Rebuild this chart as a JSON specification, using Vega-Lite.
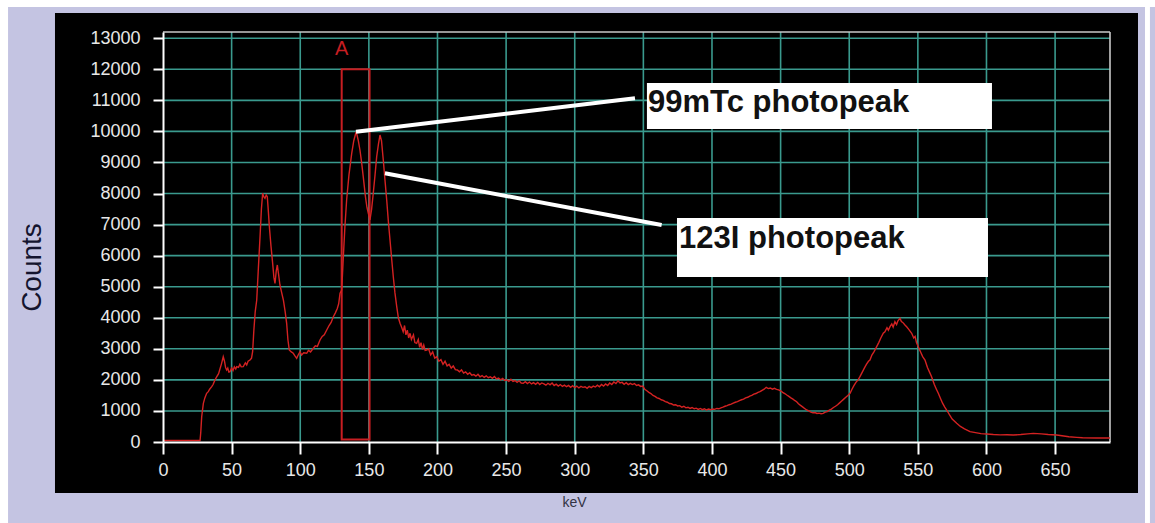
{
  "$schema": "https://vega.github.io/schema/vega-lite/v6.json",
  "width": 947,
  "height": 410,
  "autosize": {"type": "none"},
  "padding": {"left": 163, "top": 32, "right": 45, "bottom": 81},
  "background": "#ffffff",
  "config": {
    "view": {"stroke": null},
    "font": "Liberation Sans",
    "axis": {"grid": false, "labelFlush": false, "labelOverlap": false, "labelBound": false, "titleFontWeight": "normal"}
  },
  "datasets": {
    "spec": [
      {"k":0,"c":50},{"k":10,"c":50},{"k":20,"c":50},{"k":27,"c":50},{"k":27.5,"c":300},{"k":28.2,"c":815},{"k":29.4,"c":1245},{"k":30.5,"c":1420},{"k":31.8,"c":1567},{"k":33,"c":1620},{"k":34,"c":1700},{"k":35.5,"c":1780},{"k":36.5,"c":1850},{"k":37.5,"c":1960},{"k":39.1,"c":2100},{"k":40.5,"c":2200},{"k":41.5,"c":2350},{"k":42.5,"c":2500},{"k":43.9,"c":2746},{"k":44.8,"c":2600},{"k":45.6,"c":2400},{"k":46.4,"c":2318},{"k":47.2,"c":2380},{"k":48,"c":2250},{"k":48.8,"c":2264},{"k":50,"c":2380},{"k":51,"c":2300},{"k":52,"c":2420},{"k":53,"c":2350},{"k":53.7,"c":2425},{"k":55,"c":2400},{"k":56,"c":2500},{"k":57,"c":2420},{"k":58.5,"c":2425},{"k":60,"c":2550},{"k":61,"c":2480},{"k":62,"c":2600},{"k":63.4,"c":2640},{"k":64.5,"c":2700},{"k":65.3,"c":2907},{"k":66.2,"c":3600},{"k":67.2,"c":4200},{"k":68.3,"c":4572},{"k":69.5,"c":5600},{"k":70.7,"c":6610},{"k":71.7,"c":7500},{"k":72.6,"c":8007},{"k":73.4,"c":7900},{"k":74.3,"c":7846},{"k":75.2,"c":7950},{"k":76,"c":7898},{"k":76.8,"c":7400},{"k":77.5,"c":6932},{"k":78.7,"c":6300},{"k":79.9,"c":5753},{"k":80.8,"c":5300},{"k":81.6,"c":5109},{"k":82.5,"c":5500},{"k":83.3,"c":5699},{"k":84.2,"c":5400},{"k":85.2,"c":5055},{"k":86.5,"c":4800},{"k":87.7,"c":4572},{"k":89,"c":4200},{"k":90.1,"c":3821},{"k":91,"c":3300},{"k":92,"c":2962},{"k":93.5,"c":2900},{"k":94.9,"c":2856},{"k":96,"c":2780},{"k":97.4,"c":2695},{"k":98.5,"c":2800},{"k":99.8,"c":2907},{"k":101,"c":2800},{"k":102.5,"c":2870},{"k":104.7,"c":2856},{"k":106,"c":2950},{"k":107.5,"c":2900},{"k":109.5,"c":3017},{"k":111,"c":3100},{"k":112.5,"c":3080},{"k":114.4,"c":3284},{"k":116,"c":3400},{"k":117.5,"c":3450},{"k":119.3,"c":3606},{"k":121,"c":3750},{"k":122.5,"c":3850},{"k":124.1,"c":4035},{"k":125.5,"c":4150},{"k":127,"c":4300},{"k":128,"c":4450},{"k":129,"c":4787},{"k":130.2,"c":4894},{"k":131.4,"c":5966},{"k":132.5,"c":6900},{"k":133.8,"c":7791},{"k":135.5,"c":8600},{"k":137.5,"c":9295},{"k":139,"c":9700},{"k":140.5,"c":9950},{"k":141.3,"c":9900},{"k":142.3,"c":9700},{"k":143.5,"c":9401},{"k":144.7,"c":9000},{"k":145.9,"c":8542},{"k":147.5,"c":7900},{"k":148.6,"c":7550},{"k":149.6,"c":7363},{"k":150.8,"c":7147},{"k":152,"c":7500},{"k":153.2,"c":8007},{"k":154.5,"c":8600},{"k":155.7,"c":9187},{"k":157,"c":9600},{"k":158.1,"c":9884},{"k":159.2,"c":9700},{"k":160.5,"c":9079},{"k":161.8,"c":8400},{"k":163,"c":7791},{"k":164.2,"c":7100},{"k":165.4,"c":6503},{"k":166.6,"c":5900},{"k":167.8,"c":5322},{"k":169,"c":4800},{"k":170.3,"c":4356},{"k":171.5,"c":4000},{"k":172.7,"c":3821},{"k":173.8,"c":3700},{"k":175,"c":3550},{"k":176,"c":3750},{"k":177,"c":3450},{"k":178,"c":3600},{"k":179,"c":3350},{"k":180,"c":3500},{"k":181,"c":3300},{"k":182.5,"c":3450},{"k":183.5,"c":3200},{"k":184.8,"c":3178},{"k":186,"c":3300},{"k":187,"c":3050},{"k":188,"c":3200},{"k":189,"c":2980},{"k":190,"c":3120},{"k":191,"c":2950},{"k":192.1,"c":2962},{"k":193.5,"c":3000},{"k":195,"c":2800},{"k":196.5,"c":2900},{"k":198,"c":2700},{"k":199.5,"c":2750},{"k":201,"c":2600},{"k":202.5,"c":2650},{"k":204,"c":2500},{"k":205.5,"c":2600},{"k":207,"c":2450},{"k":208.5,"c":2500},{"k":210,"c":2380},{"k":211.5,"c":2450},{"k":213,"c":2330},{"k":214.5,"c":2320},{"k":216,"c":2260},{"k":217.5,"c":2320},{"k":219,"c":2220},{"k":220.5,"c":2260},{"k":222,"c":2180},{"k":223.5,"c":2230},{"k":225,"c":2150},{"k":226.5,"c":2170},{"k":228,"c":2120},{"k":229.5,"c":2180},{"k":231,"c":2100},{"k":232.5,"c":2140},{"k":234,"c":2080},{"k":235.5,"c":2130},{"k":237,"c":2070},{"k":238.5,"c":2100},{"k":240,"c":2050},{"k":241.5,"c":2110},{"k":243,"c":2030},{"k":244.5,"c":2060},{"k":246,"c":2000},{"k":247.5,"c":2050},{"k":249,"c":1980},{"k":250.5,"c":2000},{"k":252,"c":1950},{"k":253.5,"c":2020},{"k":255,"c":1950},{"k":256.5,"c":1980},{"k":258,"c":1920},{"k":259.5,"c":1970},{"k":261,"c":1900},{"k":262.5,"c":1890},{"k":264,"c":1940},{"k":265.5,"c":1880},{"k":267,"c":1930},{"k":268.5,"c":1870},{"k":270,"c":1910},{"k":271.5,"c":1860},{"k":273,"c":1920},{"k":274.5,"c":1850},{"k":276,"c":1900},{"k":277.5,"c":1870},{"k":279,"c":1830},{"k":280.5,"c":1890},{"k":282,"c":1840},{"k":283.5,"c":1900},{"k":285,"c":1820},{"k":286.5,"c":1860},{"k":288,"c":1800},{"k":289.5,"c":1850},{"k":291,"c":1790},{"k":292.5,"c":1830},{"k":294,"c":1780},{"k":295.5,"c":1820},{"k":297,"c":1760},{"k":298.5,"c":1810},{"k":300,"c":1750},{"k":301.5,"c":1800},{"k":303,"c":1740},{"k":304.5,"c":1790},{"k":306,"c":1760},{"k":307.5,"c":1780},{"k":309,"c":1730},{"k":310.5,"c":1790},{"k":312,"c":1750},{"k":313.5,"c":1800},{"k":315,"c":1770},{"k":316.5,"c":1830},{"k":318,"c":1780},{"k":319.5,"c":1850},{"k":321,"c":1800},{"k":322.5,"c":1870},{"k":324,"c":1820},{"k":325.5,"c":1900},{"k":327,"c":1850},{"k":328.5,"c":1930},{"k":330,"c":1880},{"k":331.5,"c":1970},{"k":333,"c":1900},{"k":334.5,"c":1920},{"k":336,"c":1860},{"k":337.5,"c":1910},{"k":339,"c":1850},{"k":340.5,"c":1890},{"k":342,"c":1850},{"k":343.5,"c":1880},{"k":345,"c":1820},{"k":346.5,"c":1840},{"k":348,"c":1790},{"k":349.5,"c":1800},{"k":351,"c":1700},{"k":352.5,"c":1650},{"k":354,"c":1600},{"k":355.5,"c":1560},{"k":357,"c":1500},{"k":358.5,"c":1470},{"k":360,"c":1420},{"k":361.5,"c":1400},{"k":363,"c":1360},{"k":364.5,"c":1340},{"k":366,"c":1300},{"k":367.5,"c":1280},{"k":369,"c":1240},{"k":370.5,"c":1230},{"k":372,"c":1190},{"k":373.5,"c":1200},{"k":375,"c":1160},{"k":376.5,"c":1170},{"k":378,"c":1120},{"k":379.5,"c":1150},{"k":381,"c":1100},{"k":382.5,"c":1120},{"k":384,"c":1080},{"k":385.5,"c":1110},{"k":387,"c":1070},{"k":388.5,"c":1090},{"k":390,"c":1050},{"k":391.5,"c":1080},{"k":393,"c":1040},{"k":394.5,"c":1070},{"k":396,"c":1030},{"k":397.5,"c":1060},{"k":399,"c":1040},{"k":400.5,"c":1060},{"k":402,"c":1050},{"k":403.5,"c":1080},{"k":405,"c":1070},{"k":406.5,"c":1100},{"k":408,"c":1120},{"k":409.5,"c":1150},{"k":411,"c":1170},{"k":412.5,"c":1200},{"k":414,"c":1220},{"k":415.5,"c":1250},{"k":417,"c":1280},{"k":418.5,"c":1300},{"k":420,"c":1330},{"k":421.5,"c":1360},{"k":423,"c":1380},{"k":424.5,"c":1420},{"k":426,"c":1440},{"k":427.5,"c":1480},{"k":429,"c":1500},{"k":430.5,"c":1540},{"k":432,"c":1560},{"k":433.5,"c":1600},{"k":435,"c":1620},{"k":436.5,"c":1660},{"k":438,"c":1700},{"k":439.5,"c":1760},{"k":441,"c":1720},{"k":442.5,"c":1740},{"k":444,"c":1700},{"k":445.5,"c":1730},{"k":447,"c":1696},{"k":448.5,"c":1680},{"k":450,"c":1650},{"k":451.5,"c":1600},{"k":453,"c":1560},{"k":454.5,"c":1513},{"k":456,"c":1470},{"k":457.5,"c":1420},{"k":459,"c":1380},{"k":460.5,"c":1330},{"k":461.7,"c":1298},{"k":463,"c":1230},{"k":464.5,"c":1180},{"k":466,"c":1130},{"k":467.5,"c":1080},{"k":469,"c":1030},{"k":470.5,"c":1000},{"k":472,"c":960},{"k":473.5,"c":940},{"k":475,"c":950},{"k":476.5,"c":920},{"k":478,"c":930},{"k":479.5,"c":910},{"k":481,"c":923},{"k":482.5,"c":960},{"k":484,"c":980},{"k":485.5,"c":1030},{"k":487,"c":1060},{"k":488.5,"c":1110},{"k":490,"c":1150},{"k":491.5,"c":1200},{"k":493,"c":1260},{"k":494.5,"c":1320},{"k":496,"c":1380},{"k":497.5,"c":1440},{"k":499,"c":1500},{"k":500.6,"c":1567},{"k":502,"c":1700},{"k":503.5,"c":1820},{"k":505,"c":1930},{"k":506.5,"c":2000},{"k":507.8,"c":2103},{"k":509.5,"c":2250},{"k":511,"c":2380},{"k":512.5,"c":2500},{"k":514,"c":2600},{"k":515.1,"c":2640},{"k":516.5,"c":2800},{"k":518,"c":2900},{"k":520,"c":3069},{"k":521.5,"c":3200},{"k":523,"c":3350},{"k":524.8,"c":3500},{"k":526,"c":3550},{"k":527.5,"c":3680},{"k":528.5,"c":3600},{"k":529.7,"c":3713},{"k":531,"c":3800},{"k":532,"c":3700},{"k":533.3,"c":3874},{"k":534.5,"c":3780},{"k":535.5,"c":3900},{"k":537,"c":3981},{"k":538,"c":3880},{"k":539,"c":3850},{"k":540.6,"c":3767},{"k":542,"c":3700},{"k":543.5,"c":3620},{"k":545.5,"c":3500},{"k":547,"c":3350},{"k":548,"c":3400},{"k":549,"c":3200},{"k":550.3,"c":3069},{"k":552,"c":2900},{"k":553.5,"c":2750},{"k":555.2,"c":2640},{"k":557,"c":2400},{"k":558.5,"c":2250},{"k":560,"c":2103},{"k":562,"c":1850},{"k":563.5,"c":1700},{"k":564.9,"c":1567},{"k":566.5,"c":1400},{"k":568,"c":1250},{"k":569.5,"c":1130},{"k":571,"c":1030},{"k":573,"c":880},{"k":575,"c":740},{"k":578.3,"c":602},{"k":581,"c":500},{"k":584,"c":420},{"k":588,"c":332},{"k":592,"c":300},{"k":596,"c":270},{"k":600.2,"c":258},{"k":605,"c":240},{"k":610,"c":230},{"k":615,"c":235},{"k":619.5,"c":225},{"k":625,"c":240},{"k":630,"c":260},{"k":634.1,"c":279},{"k":640,"c":260},{"k":645,"c":240},{"k":651.1,"c":225},{"k":655,"c":200},{"k":660,"c":170},{"k":665.7,"c":150},{"k":670,"c":135},{"k":680,"c":130},{"k":690,"c":129}
    ],
    "gridx": [{"v":50},{"v":100},{"v":150},{"v":200},{"v":250},{"v":300},{"v":350},{"v":400},{"v":450},{"v":500},{"v":550},{"v":600},{"v":650}],
    "gridy": [{"v":1000},{"v":2000},{"v":3000},{"v":4000},{"v":5000},{"v":6000},{"v":7000},{"v":8000},{"v":9000},{"v":10000},{"v":11000},{"v":12000},{"v":13000}],
    "window": [{"k1":130.2,"k2":150.5,"c1":80,"c2":12000}],
    "leaders": [{"k1":140.6,"c1":9990,"k2":343.9,"c2":11065},{"k1":161.7,"c1":8651,"k2":363.3,"c2":6986}],
    "boxes": [{"k1":352.6,"k2":604.0,"c1":10077,"c2":11558},{"k1":374.5,"k2":601.1,"c1":5312,"c2":7212}],
    "labels": [{"k":353.4,"c":10624,"t":"99mTc photopeak"},{"k":376,"c":6246,"t":"123I photopeak"}]
  },
  "layer": [
    {
      "data": {"values": [{}]},
      "mark": {"type": "rect", "color": "#c4c4e2"},
      "encoding": {
        "x": {
          "datum": -112.9, "type": "quantitative", "scale": {"domain": [0, 690], "nice": false, "zero": false},
          "axis": {
            "zindex": 2, "labelOverlap": false, "labelFlush": false, "labelBound": false,
            "title": "keV", "values": [0,50,100,150,200,250,300,350,400,450,500,550,600,650], "tickCount": 14,
            "domainColor": "#ffffff", "domainWidth": 2,
            "tickColor": "#ffffff", "tickWidth": 2, "tickSize": 12,
            "labelColor": "#e8e8e8", "labelFont": "Liberation Sans", "labelFontSize": 18, "labelPadding": 7,
            "titleFont": "Liberation Sans", "titleFontSize": 14, "titleColor": "#333344",
            "titleX": 411, "titleY": 60, "titleBaseline": "middle", "titleAlign": "center"
          }
        },
        "x2": {"datum": 715.5},
        "y": {
          "datum": -3000, "type": "quantitative", "scale": {"domain": [0, 13200], "nice": false, "zero": false},
          "axis": {
            "zindex": 2, "labelOverlap": false, "labelFlush": false, "labelBound": false,
            "title": "Counts", "values": [0,1000,2000,3000,4000,5000,6000,7000,8000,9000,10000,11000,12000,13000], "tickCount": 14, "format": "d",
            "domainColor": "#ffffff", "domainWidth": 2,
            "tickColor": "#ffffff", "tickWidth": 2, "tickSize": 10,
            "labelColor": "#e8e8e8", "labelFont": "Liberation Sans", "labelFontSize": 18, "labelPadding": 13,
            "titleFont": "Liberation Sans", "titleFontSize": 28, "titleColor": "#14142e",
            "titleX": -131, "titleY": 235, "titleAngle": -90, "titleBaseline": "middle", "titleAlign": "center"
          }
        },
        "y2": {"datum": 14005}
      }
    },
    {
      "data": {"values": [{}]},
      "mark": {"type": "rect", "color": "#c4c4e2"},
      "encoding": {
        "x": {"datum": 719.1, "type": "quantitative", "scale": {"domain": [0, 690], "nice": false, "zero": false}},
        "x2": {"datum": 730},
        "y": {"datum": -3000, "type": "quantitative", "scale": {"domain": [0, 13200], "nice": false, "zero": false}},
        "y2": {"datum": 14005}
      }
    },
    {
      "data": {"values": [{}]},
      "mark": {"type": "rect", "color": "#000000"},
      "encoding": {
        "x": {"datum": -78.7, "type": "quantitative", "scale": {"domain": [0, 690], "nice": false, "zero": false}},
        "x2": {"datum": 710.4},
        "y": {"datum": -1642, "type": "quantitative", "scale": {"domain": [0, 13200], "nice": false, "zero": false}},
        "y2": {"datum": 13812}
      }
    },
    {
      "data": {"name": "gridx"},
      "mark": {"type": "rule", "color": "#3a9a8e", "strokeWidth": 1.6},
      "encoding": {
        "x": {"field": "v", "type": "quantitative", "scale": {"domain": [0, 690], "nice": false, "zero": false}}
      }
    },
    {
      "data": {"name": "gridy"},
      "mark": {"type": "rule", "color": "#3a9a8e", "strokeWidth": 1.6},
      "encoding": {
        "y": {"field": "v", "type": "quantitative", "scale": {"domain": [0, 13200], "nice": false, "zero": false}}
      }
    },
    {
      "data": {"values": [{}]},
      "mark": {"type": "rule", "color": "#c8c8c8", "strokeWidth": 1.6},
      "encoding": {
        "x": {"datum": 690, "type": "quantitative", "scale": {"domain": [0, 690], "nice": false, "zero": false}}
      }
    },
    {
      "data": {"values": [{}]},
      "mark": {"type": "rule", "color": "#c8c8c8", "strokeWidth": 1.6},
      "encoding": {
        "y": {"datum": 13200, "type": "quantitative", "scale": {"domain": [0, 13200], "nice": false, "zero": false}}
      }
    },
    {
      "data": {"name": "window"},
      "mark": {"type": "rect", "fill": null, "fillOpacity": 0, "stroke": "#c81e22", "strokeWidth": 2},
      "encoding": {
        "x": {"field": "k1", "type": "quantitative", "scale": {"domain": [0, 690], "nice": false, "zero": false}},
        "x2": {"field": "k2"},
        "y": {"field": "c1", "type": "quantitative", "scale": {"domain": [0, 13200], "nice": false, "zero": false}},
        "y2": {"field": "c2"}
      }
    },
    {
      "data": {"name": "spec"},
      "mark": {"type": "line", "color": "#d42222", "strokeWidth": 1.4},
      "encoding": {
        "x": {"field": "k", "type": "quantitative", "scale": {"domain": [0, 690], "nice": false, "zero": false}},
        "y": {"field": "c", "type": "quantitative", "scale": {"domain": [0, 13200], "nice": false, "zero": false}}
      }
    },
    {
      "data": {"name": "leaders"},
      "mark": {"type": "rule", "color": "#ffffff", "strokeWidth": 4},
      "encoding": {
        "x": {"field": "k1", "type": "quantitative", "scale": {"domain": [0, 690], "nice": false, "zero": false}},
        "x2": {"field": "k2"},
        "y": {"field": "c1", "type": "quantitative", "scale": {"domain": [0, 13200], "nice": false, "zero": false}},
        "y2": {"field": "c2"}
      }
    },
    {
      "data": {"name": "boxes"},
      "mark": {"type": "rect", "color": "#ffffff"},
      "encoding": {
        "x": {"field": "k1", "type": "quantitative", "scale": {"domain": [0, 690], "nice": false, "zero": false}},
        "x2": {"field": "k2"},
        "y": {"field": "c1", "type": "quantitative", "scale": {"domain": [0, 13200], "nice": false, "zero": false}},
        "y2": {"field": "c2"}
      }
    },
    {
      "data": {"name": "labels"},
      "mark": {"type": "text", "font": "Liberation Sans", "fontWeight": "bold", "fontSize": 31, "color": "#111111", "align": "left", "baseline": "alphabetic"},
      "encoding": {
        "x": {"field": "k", "type": "quantitative", "scale": {"domain": [0, 690], "nice": false, "zero": false}},
        "y": {"field": "c", "type": "quantitative", "scale": {"domain": [0, 13200], "nice": false, "zero": false}},
        "text": {"field": "t"}
      }
    },
    {
      "data": {"values": [{"t": "A", "k": 130.2, "c": 12460}]},
      "mark": {"type": "text", "font": "Liberation Sans", "fontSize": 20, "color": "#c81e22", "align": "center", "baseline": "alphabetic"},
      "encoding": {
        "x": {"field": "k", "type": "quantitative", "scale": {"domain": [0, 690], "nice": false, "zero": false}},
        "y": {"field": "c", "type": "quantitative", "scale": {"domain": [0, 13200], "nice": false, "zero": false}},
        "text": {"field": "t"}
      }
    }
  ]
}
